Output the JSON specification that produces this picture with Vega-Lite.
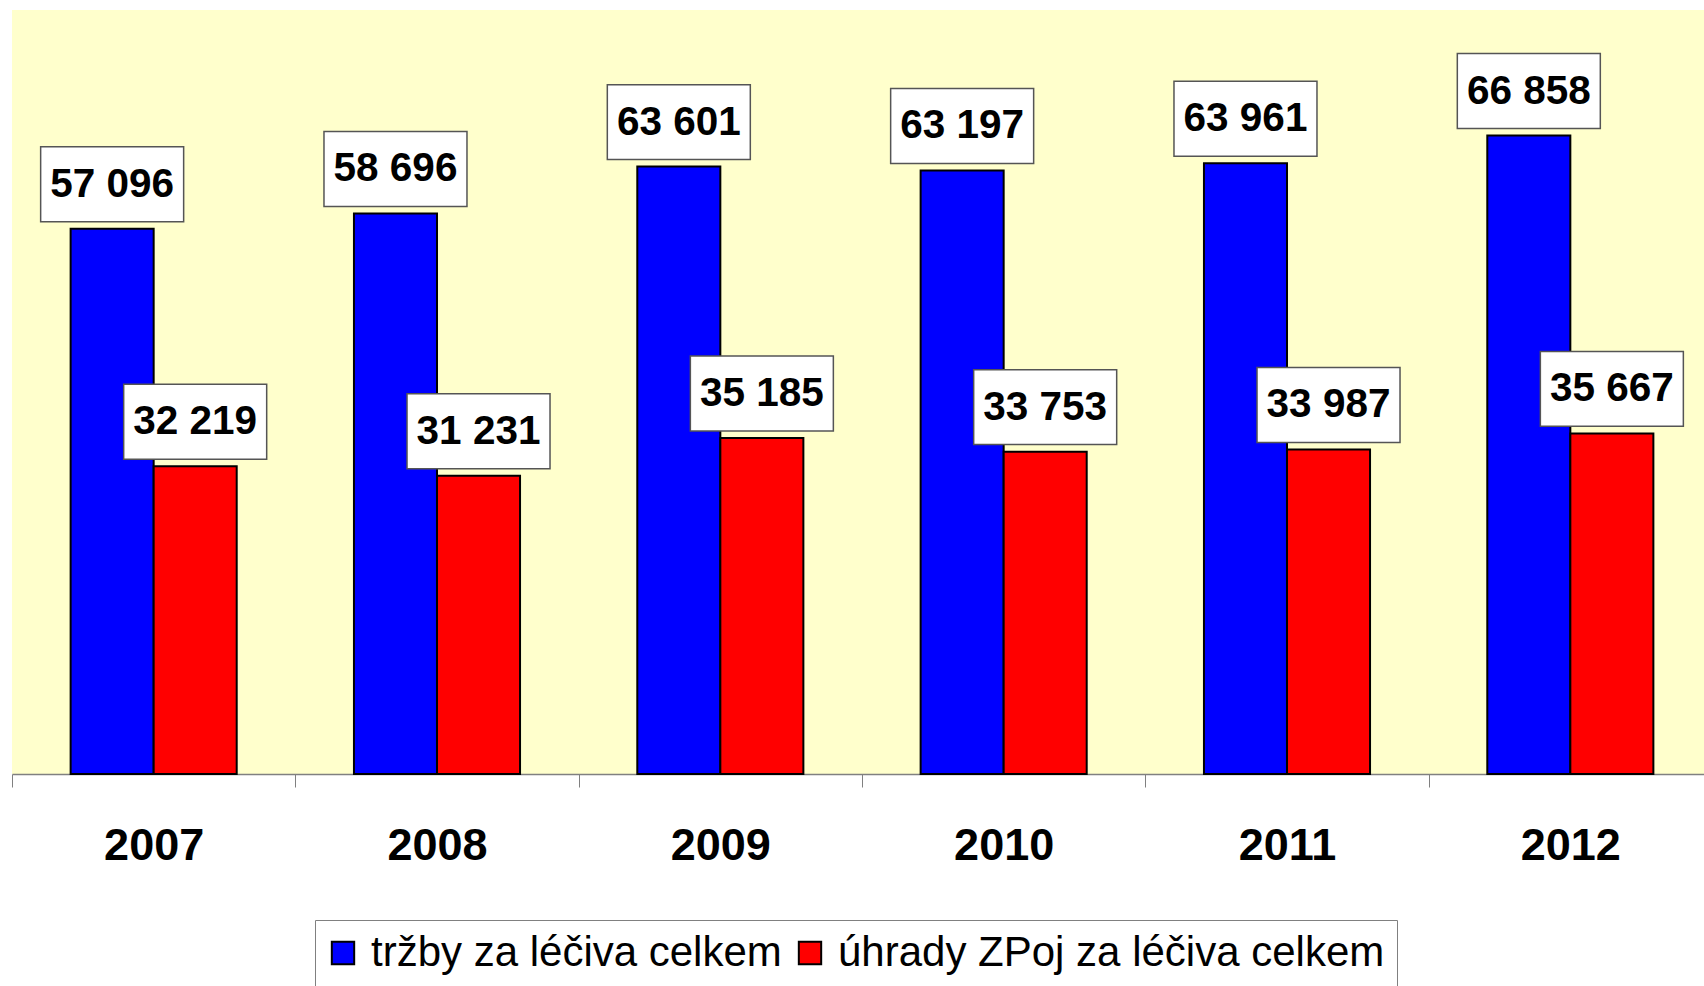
{
  "$schema": "https://vega.github.io/schema/vega-lite/v6.json",
  "width": 1692,
  "height": 764,
  "autosize": "none",
  "padding": {"left": 12, "top": 10, "right": 0, "bottom": 212},
  "background": "white",
  "config": {
    "view": {"fill": "#FFFFCC", "stroke": null},
    "locale": {"number": {"decimal": ",", "thousands": " ", "grouping": [3], "currency": ["", " Kč"]}}
  },
  "data": {
    "values": [
      {"rok": "2007", "rada": "tržby za léčiva celkem", "hodnota": 57096},
      {"rok": "2007", "rada": "úhrady ZPoj za léčiva celkem", "hodnota": 32219},
      {"rok": "2008", "rada": "tržby za léčiva celkem", "hodnota": 58696},
      {"rok": "2008", "rada": "úhrady ZPoj za léčiva celkem", "hodnota": 31231},
      {"rok": "2009", "rada": "tržby za léčiva celkem", "hodnota": 63601},
      {"rok": "2009", "rada": "úhrady ZPoj za léčiva celkem", "hodnota": 35185},
      {"rok": "2010", "rada": "tržby za léčiva celkem", "hodnota": 63197},
      {"rok": "2010", "rada": "úhrady ZPoj za léčiva celkem", "hodnota": 33753},
      {"rok": "2011", "rada": "tržby za léčiva celkem", "hodnota": 63961},
      {"rok": "2011", "rada": "úhrady ZPoj za léčiva celkem", "hodnota": 33987},
      {"rok": "2012", "rada": "tržby za léčiva celkem", "hodnota": 66858},
      {"rok": "2012", "rada": "úhrady ZPoj za léčiva celkem", "hodnota": 35667}
    ]
  },
  "encoding": {
    "x": {
      "field": "rok", "type": "nominal", "sort": null,
      "scale": {"paddingInner": 0, "paddingOuter": 0, "range": [0, 1700]},
      "axis": {
        "title": null, "labelAngle": 0,
        "labelFont": "Liberation Sans", "labelFontWeight": "bold", "labelFontSize": 45, "labelColor": "black",
        "labelPadding": 36,
        "tickBand": "extent", "tickSize": 13, "tickColor": "#808080", "tickWidth": 1,
        "domainColor": "#808080", "domainWidth": 1.5
      }
    },
    "xOffset": {
      "field": "rada", "type": "nominal", "sort": null,
      "scale": {"paddingInner": 0, "paddingOuter": 0.706}
    },
    "y": {
      "field": "hodnota", "type": "quantitative",
      "scale": {"domain": [0, 80000], "nice": false},
      "axis": null
    }
  },
  "layer": [
    {
      "mark": {"type": "bar", "stroke": "black", "strokeWidth": 2},
      "encoding": {
        "color": {
          "field": "rada", "type": "nominal", "sort": null,
          "scale": {"domain": ["tržby za léčiva celkem", "úhrady ZPoj za léčiva celkem"], "range": ["#0000FF", "#FF0000"]},
          "legend": {
            "title": null, "orient": "none", "legendX": 303, "legendY": 910, "direction": "horizontal",
            "labelFont": "Liberation Sans", "labelFontSize": 42, "labelColor": "black", "labelLimit": 1000,
            "symbolType": "square", "symbolSize": 500, "symbolStrokeColor": "black", "symbolStrokeWidth": 2,
            "symbolOffset": -5,
            "strokeColor": "#808080", "fillColor": "white", "padding": 12, "labelOffset": 7, "columnPadding": 12
          }
        }
      }
    },
    {
      "mark": {
        "type": "point", "filled": true, "fill": "white", "stroke": "#555555", "strokeWidth": 1.5, "opacity": 1,
        "shape": "M-1,-0.524L1,-0.524L1,0.524L-1,0.524Z", "size": 20449, "yOffset": -44.5
      },
      "encoding": {}
    },
    {
      "mark": {
        "type": "text", "font": "Liberation Sans", "fontWeight": "bold", "fontSize": 40.5, "color": "black",
        "baseline": "middle", "align": "center", "yOffset": -44
      },
      "encoding": {"text": {"field": "hodnota", "type": "quantitative", "format": ",d"}}
    }
  ]
}
